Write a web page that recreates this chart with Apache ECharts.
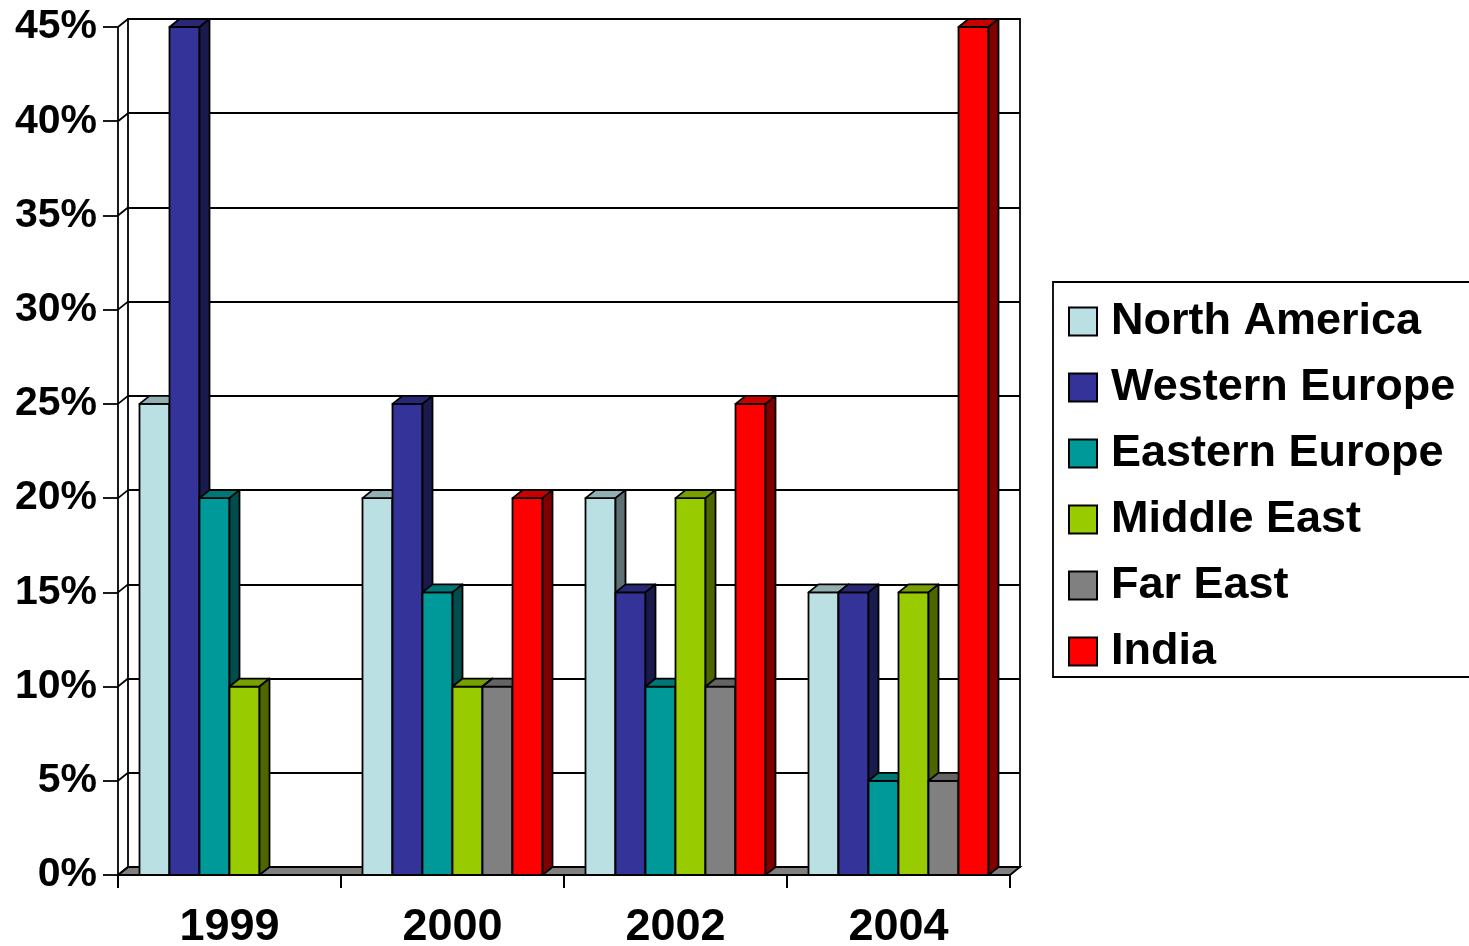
<!DOCTYPE html>
<html>
<head>
<meta charset="utf-8">
<script src="https://cdn.jsdelivr.net/npm/echarts@6/dist/echarts.min.js"></script>
<style>
  html, body { margin: 0; padding: 0; background: #fff; }
  #chart { width: 1469px; height: 946px; }
</style>
</head>
<body>
<div id="chart"></div>
<script>
// data
var years = ['1999', '2000', '2002', '2004'];
var yTicks = [0, 5, 10, 15, 20, 25, 30, 35, 40, 45];
var regions = ['North America', 'Western Europe', 'Eastern Europe', 'Middle East', 'Far East', 'India'];
var northAmerica = [25, 20, 20, 15];
var westernEurope = [45, 25, 15, 15];
var easternEurope = [20, 15, 10, 5];
var middleEast = [10, 10, 20, 15];
var farEast = [0, 10, 10, 5];
var india = [0, 20, 25, 45];
var colors = ['#BBE0E3', '#333399', '#009999', '#99CC00', '#808080', '#FF0000'];

var values = [northAmerica, westernEurope, easternEurope, middleEast, farEast, india];
var font = "'Liberation Sans', Arial, sans-serif";
var DX = 10, DY = 8;          // depth of the fake 3d
var barRatio = 180 / 223;     // share of band taken by the bars

function shade (hex, f) {
    var n = parseInt(hex.slice(1), 16);
    var r = Math.round(((n >> 16) & 255) * f);
    var g = Math.round(((n >> 8) & 255) * f);
    var b = Math.round((n & 255) * f);
    return 'rgb(' + r + ',' + g + ',' + b + ')';
}

function makeBar (idx) {
    return function (params, api) {
        var cat = api.value(0), val = api.value(1);
        if (!val) return null;
        var band = api.size([1, 0])[0];
        var w = band * barRatio / regions.length;
        var top = api.coord([cat, val]);
        var base = api.coord([cat, 0]);
        var x0 = top[0] - band * barRatio / 2 + idx * w;
        var x1 = x0 + w;
        var y0 = top[1], y1 = base[1];
        var c = colors[idx];
        var st = { stroke: '#000', lineWidth: 1.8, lineJoin: 'round' };
        return {
            type: 'group',
            children: [
                { type: 'rect', shape: { x: x0, y: y0, width: w, height: y1 - y0 },
                  style: Object.assign({ fill: c }, st) },
                { type: 'polygon', shape: { points: [[x0, y0], [x1, y0], [x1 + DX, y0 - DY], [x0 + DX, y0 - DY]] },
                  style: Object.assign({ fill: shade(c, 0.78) }, st) },
                { type: 'polygon', shape: { points: [[x1, y0], [x1 + DX, y0 - DY], [x1 + DX, y1 - DY], [x1, y1]] },
                  style: Object.assign({ fill: shade(c, 0.5) }, st) }
            ]
        };
    };
}

function renderFrame (params, api) {
    var v = api.value(0);
    var band = api.size([1, 0])[0];
    var p = api.coord([0, v]);
    var left = p[0] - band / 2;
    var right = api.coord([years.length - 1, v])[0] + band / 2;
    var y = p[1];
    var kids = [
        { type: 'line', shape: { x1: left, y1: y, x2: left + DX, y2: y - DY },
          style: { stroke: '#000', lineWidth: 1.8 } }
    ];
    if (v === 0) {
        kids.unshift({ type: 'polygon',
            shape: { points: [[left, y], [right, y], [right + DX, y - DY], [left + DX, y - DY]] },
            style: { fill: '#808080', stroke: '#000', lineWidth: 1.8 } });
        // category boundary ticks under the floor
        for (var k = 0; k <= years.length; k++) {
            var tx = left + k * band;
            kids.push({ type: 'line', shape: { x1: tx, y1: y, x2: tx, y2: y + 13 },
                style: { stroke: '#000', lineWidth: 2 } });
        }
    }
    return { type: 'group', children: kids };
}

var series = regions.map(function (name, i) {
    return {
        name: name,
        type: 'custom',
        xAxisIndex: 0,
        yAxisIndex: 0,
        z: 3,
        itemStyle: { color: colors[i], borderColor: '#000', borderWidth: 1.8 },
        renderItem: makeBar(i),
        encode: { x: 0, y: 1 },
        data: values[i].map(function (v, k) { return [k, v]; })
    };
});
series.unshift({
    name: 'frame',
    type: 'custom',
    xAxisIndex: 0,
    yAxisIndex: 0,
    z: 1,
    silent: true,
    clip: false,
    renderItem: renderFrame,
    encode: { y: 0 },
    data: yTicks.map(function (t) { return [t]; })
});

var chart = echarts.init(document.getElementById('chart'));
var option = {
    animation: false,
    backgroundColor: '#fff',
    grid: [
        { left: 118, top: 27, width: 892, height: 848, outerBoundsMode: 'none', containLabel: false },
        { left: 118 + DX, top: 27 - DY, width: 892, height: 848, outerBoundsMode: 'none', containLabel: false,
          show: true, borderColor: '#000', borderWidth: 1.8, backgroundColor: 'transparent' }
    ],
    xAxis: [
        {
            type: 'category', gridIndex: 0, data: years,
            axisLine: { lineStyle: { color: '#000', width: 1.8 } },
            axisTick: { show: false },
            axisLabel: { color: '#000', fontFamily: font, fontWeight: 'bold', fontSize: 45, margin: 30 }
        },
        {
            type: 'category', gridIndex: 1, data: years, show: false
        }
    ],
    yAxis: [
        {
            type: 'value', gridIndex: 0, min: 0, max: 45, interval: 5,
            axisLine: { show: true, lineStyle: { color: '#000', width: 1.8 } },
            axisTick: { show: true, length: 15, lineStyle: { color: '#000', width: 1.8 } },
            splitLine: { show: false },
            axisLabel: { color: '#000', fontFamily: font, fontWeight: 'bold', fontSize: 41, margin: 21,
                formatter: '{value}%' }
        },
        {
            type: 'value', gridIndex: 1, min: 0, max: 45, interval: 5,
            axisLine: { show: false }, axisTick: { show: false }, axisLabel: { show: false },
            splitLine: { show: true, lineStyle: { color: '#000', width: 1.8 } }
        }
    ],
    legend: {
        data: regions,
        orient: 'vertical',
        left: 1053,
        top: 282,
        icon: 'rect',
        itemWidth: 28,
        itemHeight: 28,
        itemGap: 21,
        borderColor: '#000',
        borderWidth: 1.8,
        padding: [17, 30, 3, 15],
        textStyle: { color: '#000', fontFamily: font, fontWeight: 'bold', fontSize: 45,
            lineHeight: 44, padding: [0, 0, 0, 9] }
    },
    series: series
};
chart.setOption(option);
</script>
</body>
</html>
